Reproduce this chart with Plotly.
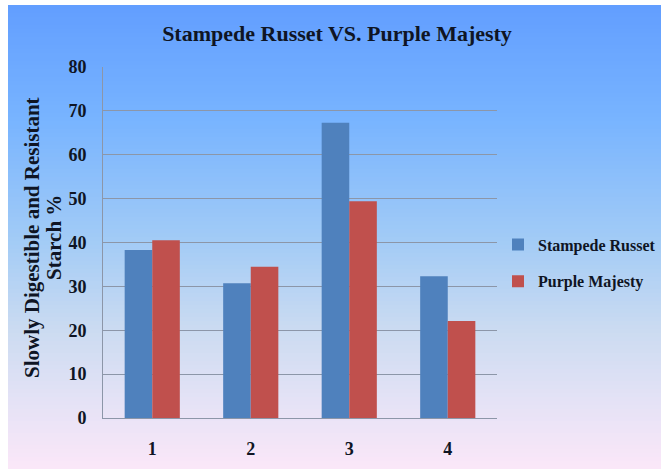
import plotly.graph_objects as go

categories = ["1", "2", "3", "4"]
stampede_russet = [38.3, 30.7, 67.3, 32.3]
purple_majesty = [40.5, 34.5, 49.4, 22.1]
y_ticks = [0, 10, 20, 30, 40, 50, 60, 70, 80]

W, H = 661, 469
L, R, T, B = 103, 164, 67, 51
pw, ph = W - L - R, H - T - B

def px_to_paper_x(x):
    return (x - L) / pw

def px_to_paper_y(y):
    return (H - B - y) / ph

# gradient background (style only)
stops = [(5, (98, 158, 255)), (120, (120, 180, 255)), (240, (162, 203, 246)),
         (330, (203, 219, 241)), (400, (228, 226, 246)), (469, (251, 231, 248))]

def col_at(y):
    for (y0, c0), (y1, c1) in zip(stops[:-1], stops[1:]):
        if y0 <= y <= y1:
            t = (y - y0) / (y1 - y0)
            return tuple(round(a + (b - a) * t) for a, b in zip(c0, c1))
    return stops[-1][1]

shapes = []
step = 4
y = 5
while y < H:
    y2 = min(y + step, H)
    c = col_at((y + y2) / 2)
    shapes.append(dict(type="rect", xref="paper", yref="paper", layer="below",
                       x0=px_to_paper_x(8), x1=px_to_paper_x(W + 2),
                       y0=px_to_paper_y(y2 + 0.5), y1=px_to_paper_y(y),
                       fillcolor="rgb(%d,%d,%d)" % c, line=dict(width=0)))
    y = y2

font_family = "Liberation Serif"
text_color = "#0F1524"

fig = go.Figure()
fig.add_trace(go.Bar(x=categories, y=stampede_russet, name="Stampede Russet",
                     legendgroup="sr",
                     marker=dict(color="#4F81BD", line=dict(width=0))))
fig.add_trace(go.Bar(x=categories, y=purple_majesty, name="Purple Majesty",
                     legendgroup="pm",
                     marker=dict(color="#C0504D", line=dict(width=0))))

fig.update_layout(
    width=W, height=H,
    margin=dict(l=L, r=R, t=T, b=B, autoexpand=False),
    paper_bgcolor="white",
    plot_bgcolor="rgba(0,0,0,0)",
    barmode="group",
    bargap=0.44,
    bargroupgap=0,
    shapes=shapes,
    title=dict(text="<b>Stampede Russet VS. Purple Majesty</b>",
               x=337 / W, xanchor="center",
               y=1 - 33 / H, yanchor="middle",
               font=dict(family=font_family, size=22, color=text_color)),
    font=dict(family=font_family, color=text_color),
    legend=dict(x=px_to_paper_x(498), y=px_to_paper_y(263), xanchor="left", yanchor="middle",
                font=dict(family=font_family, size=16, color=text_color, weight="bold"),
                bgcolor="rgba(0,0,0,0)", itemwidth=30, tracegroupgap=13),
    xaxis=dict(showgrid=False, showline=True, linecolor="#8C96A8", linewidth=1,
               ticks="", tickfont=dict(family=font_family, size=18, color=text_color, weight="bold"),
               ticklabelstandoff=14),
    yaxis=dict(range=[0, 80], tickvals=y_ticks, showgrid=True, gridcolor="#8C96A8",
               gridwidth=1, showline=True, linecolor="#8C96A8", linewidth=1,
               zeroline=False, ticks="",
               tickfont=dict(family=font_family, size=18, color=text_color, weight="bold"),
               ticklabelstandoff=12),
    annotations=[
        dict(text="<b>Slowly Digestible and Resistant</b>",
             xref="paper", yref="paper", x=px_to_paper_x(32), y=px_to_paper_y(238),
             xanchor="center", yanchor="middle", textangle=-90, showarrow=False,
             font=dict(family=font_family, size=21, color=text_color)),
        dict(text="<b>Starch %</b>",
             xref="paper", yref="paper", x=px_to_paper_x(54), y=px_to_paper_y(238),
             xanchor="center", yanchor="middle", textangle=-90, showarrow=False,
             font=dict(family=font_family, size=21, color=text_color)),
    ],
)

fig.write_html("out.html")
